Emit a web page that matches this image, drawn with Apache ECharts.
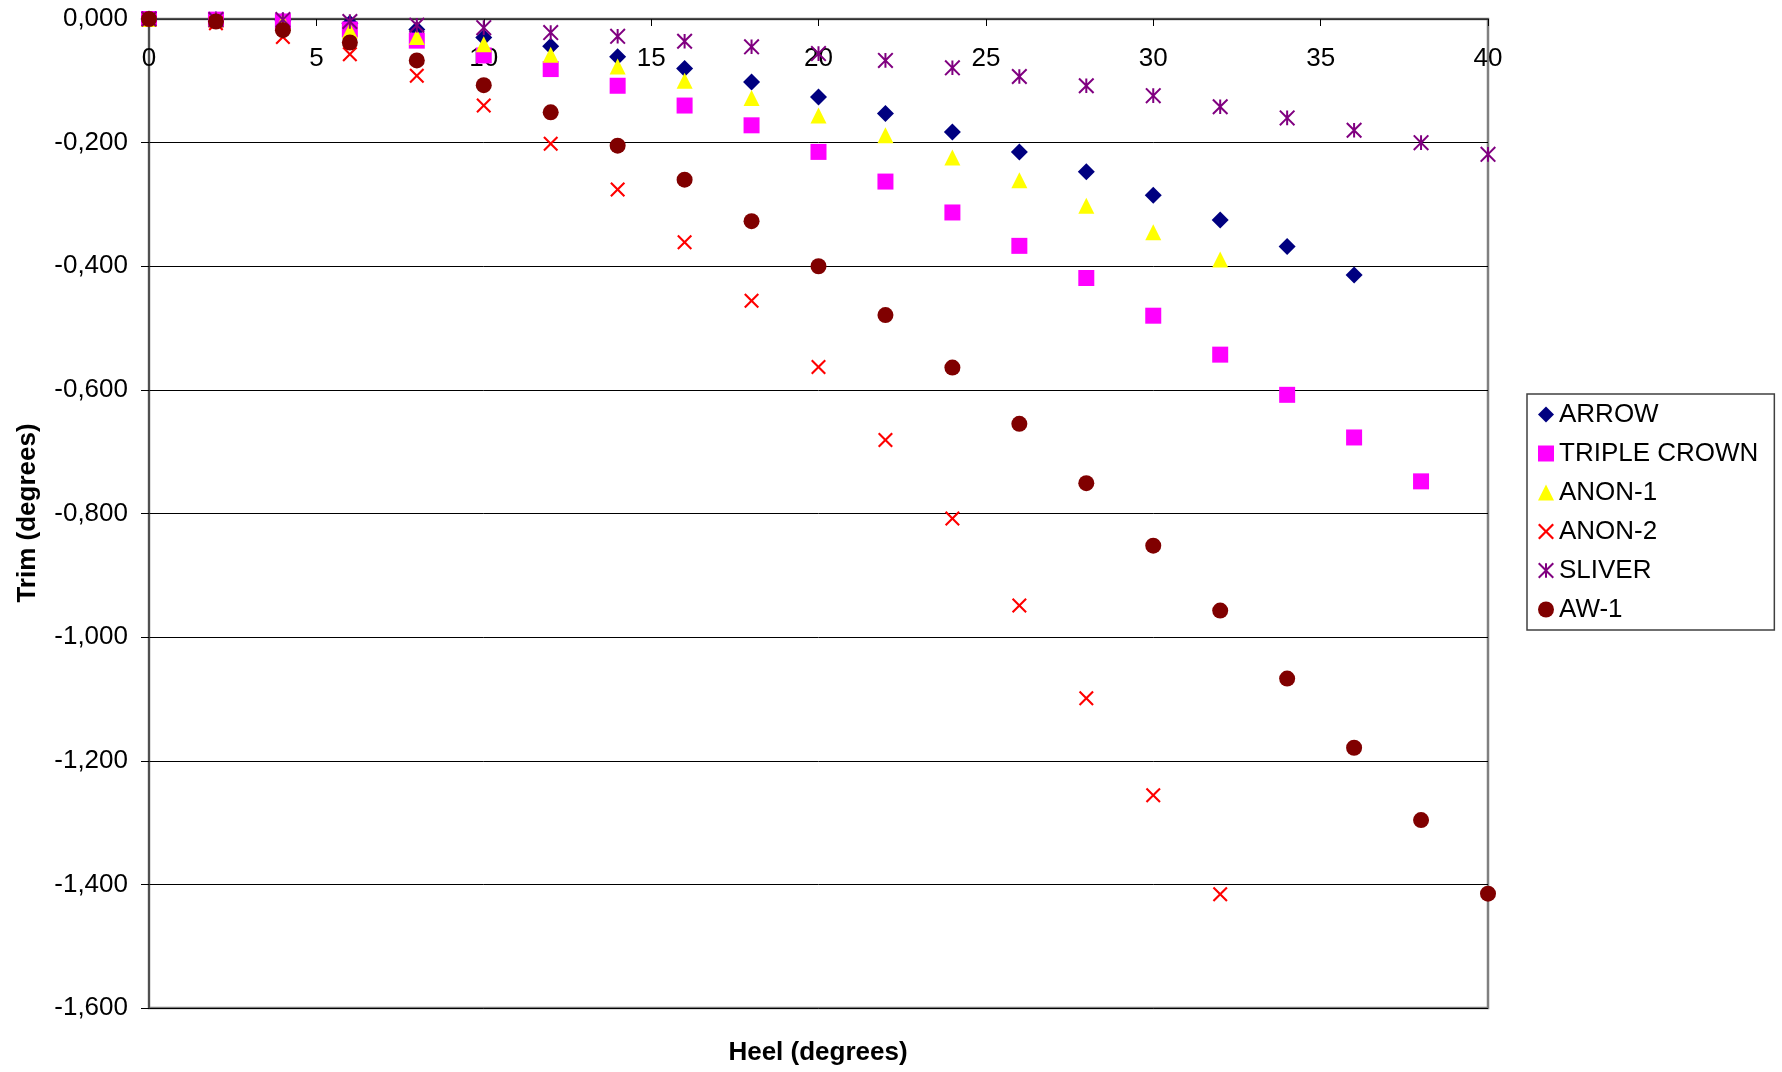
<!DOCTYPE html>
<html>
<head>
<meta charset="utf-8">
<script src="https://cdn.jsdelivr.net/npm/echarts@6/dist/echarts.min.js"></script>
<style>
  html, body { margin: 0; padding: 0; background: #ffffff; }
  #chart { width: 1782px; height: 1072px; }
</style>
</head>
<body>
<div id="chart"></div>
<script>
// Heel angles (degrees), shared by every series
const heel = [0, 2, 4, 6, 8, 10, 12, 14, 16, 18, 20, 22, 24, 26, 28, 30, 32, 34, 36, 38, 40];

// Trim (degrees) per boat, one value per heel step
const arrow       = [0, -0.001, -0.003, -0.007, -0.017, -0.030, -0.044, -0.061, -0.080, -0.102, -0.126, -0.153, -0.183, -0.215, -0.247, -0.285, -0.325, -0.368, -0.414];
const tripleCrown = [0, -0.001, -0.004, -0.017, -0.035, -0.059, -0.081, -0.108, -0.140, -0.172, -0.215, -0.263, -0.313, -0.367, -0.419, -0.480, -0.543, -0.608, -0.677, -0.748];
const anon1       = [0, -0.001, -0.005, -0.019, -0.029, -0.041, -0.058, -0.077, -0.100, -0.128, -0.156, -0.188, -0.224, -0.261, -0.302, -0.345, -0.389];
const anon2       = [0, -0.007, -0.029, -0.057, -0.092, -0.140, -0.202, -0.276, -0.361, -0.456, -0.563, -0.681, -0.808, -0.949, -1.099, -1.256, -1.416];
const sliver      = [0, -0.001, -0.001, -0.004, -0.010, -0.014, -0.022, -0.028, -0.036, -0.045, -0.056, -0.067, -0.079, -0.093, -0.108, -0.124, -0.142, -0.160, -0.180, -0.200, -0.219];
const aw1         = [0, -0.004, -0.018, -0.038, -0.067, -0.107, -0.151, -0.205, -0.260, -0.327, -0.400, -0.479, -0.564, -0.655, -0.751, -0.852, -0.957, -1.067, -1.179, -1.296, -1.415];

const seriesNames = ['ARROW', 'TRIPLE CROWN', 'ANON-1', 'ANON-2', 'SLIVER', 'AW-1'];
const seriesValues = [arrow, tripleCrown, anon1, anon2, sliver, aw1];

// Axis ranges
const xMin = 0, xMax = 40, xStep = 5;
const yMin = -1.6, yMax = 0, yStep = 0.2;

const FONT = "'Liberation Sans', Arial, sans-serif";

// Builds a filled "crossed strokes" marker outline (X, asterisk) from arm directions
function armPath(arms, h) {
  const f = p => p[0].toFixed(3) + ',' + p[1].toFixed(3);
  let d = '';
  for (let i = 0; i < arms.length; i++) {
    const deg = arms[i][0], len = arms[i][1];
    const a = deg * Math.PI / 180;
    const dx = Math.cos(a), dy = Math.sin(a);
    const nx = -dy, ny = dx;
    const p1 = [len * dx - h * nx, len * dy - h * ny];
    const p2 = [len * dx + h * nx, len * dy + h * ny];
    let delta = arms[(i + 1) % arms.length][0] - deg;
    if (delta <= 0) delta += 360;
    const mid = (deg + delta / 2) * Math.PI / 180;
    const r = h / Math.sin(delta / 2 * Math.PI / 180);
    const p3 = [r * Math.cos(mid), r * Math.sin(mid)];
    d += (i === 0 ? 'M' : 'L') + f(p1) + 'L' + f(p2) + 'L' + f(p3);
  }
  return 'path://' + d + 'Z';
}
const diag = 8 * Math.SQRT2;
const crossSymbol = armPath([[45, diag], [135, diag], [225, diag], [315, diag]], 1.25);
const starSymbol = armPath([[45, diag], [90, 8], [135, diag], [225, diag], [270, 8], [315, diag]], 1.1);

const styles = [
  { symbol: 'diamond',  size: 17, color: '#000080' },
  { symbol: 'rect',     size: 16, color: '#FF00FF' },
  { symbol: 'triangle', size: 16, color: '#FFFF00' },
  { symbol: crossSymbol, size: 15, color: '#FF0000' },
  { symbol: starSymbol,  size: 16, color: '#800080' },
  { symbol: 'circle',   size: 16, color: '#800000' }
];

const series = seriesNames.map((name, s) => ({
  name: name,
  type: 'scatter',
  symbol: styles[s].symbol,
  symbolSize: styles[s].size,
  itemStyle: { color: styles[s].color, opacity: 1 },
  emphasis: { disabled: true },
  data: seriesValues[s].map((v, i) => [heel[i], v])
}));

const chart = echarts.init(document.getElementById('chart'), null, { renderer: 'canvas' });
chart.setOption({
  animation: false,
  backgroundColor: '#ffffff',
  grid: {
    left: 149, top: 19, right: 294, bottom: 64,
    show: true, borderColor: '#808080', borderWidth: 2.5, backgroundColor: '#ffffff'
  },
  xAxis: {
    type: 'value',
    position: 'top',
    min: xMin, max: xMax, interval: xStep,
    axisLine: { show: true, onZero: false, lineStyle: { color: '#404040', width: 1.5 } },
    axisTick: { show: true, inside: true, length: 7, lineStyle: { color: '#000000', width: 1 } },
    axisLabel: { inside: true, margin: 27, fontSize: 26, fontFamily: FONT, color: '#000000' },
    splitLine: { show: false }
  },
  yAxis: {
    type: 'value',
    min: yMin, max: yMax, interval: yStep,
    axisLine: { show: true, lineStyle: { color: '#404040', width: 1.5 } },
    axisTick: { show: true, length: 8, lineStyle: { color: '#000000', width: 1 } },
    axisLabel: {
      margin: 21, fontSize: 26, fontFamily: FONT, color: '#000000',
      formatter: v => (Math.abs(v) < 1e-9 ? 0 : v).toFixed(3).replace('.', ',')
    },
    splitLine: { show: true, lineStyle: { color: '#000000', width: 1 } }
  },
  legend: {
    orient: 'vertical',
    left: 1527, top: 394,
    padding: [7, 16, 7, 11],
    itemGap: 12,
    itemWidth: 16, itemHeight: 16,
    borderColor: '#404040', borderWidth: 1.5,
    backgroundColor: '#ffffff',
    textStyle: { fontSize: 26, fontFamily: FONT, color: '#000000', lineHeight: 27 },
    data: seriesNames
  },
  graphic: [
    {
      type: 'text', x: 28, y: 513, rotation: Math.PI / 2,
      style: { text: 'Trim (degrees)', font: 'bold 26px ' + FONT, fill: '#000000', align: 'center', verticalAlign: 'middle' }
    },
    {
      type: 'text', x: 818, y: 1053,
      style: { text: 'Heel (degrees)', font: 'bold 26px ' + FONT, fill: '#000000', align: 'center', verticalAlign: 'middle' }
    }
  ],
  series: series
});
</script>
</body>
</html>
